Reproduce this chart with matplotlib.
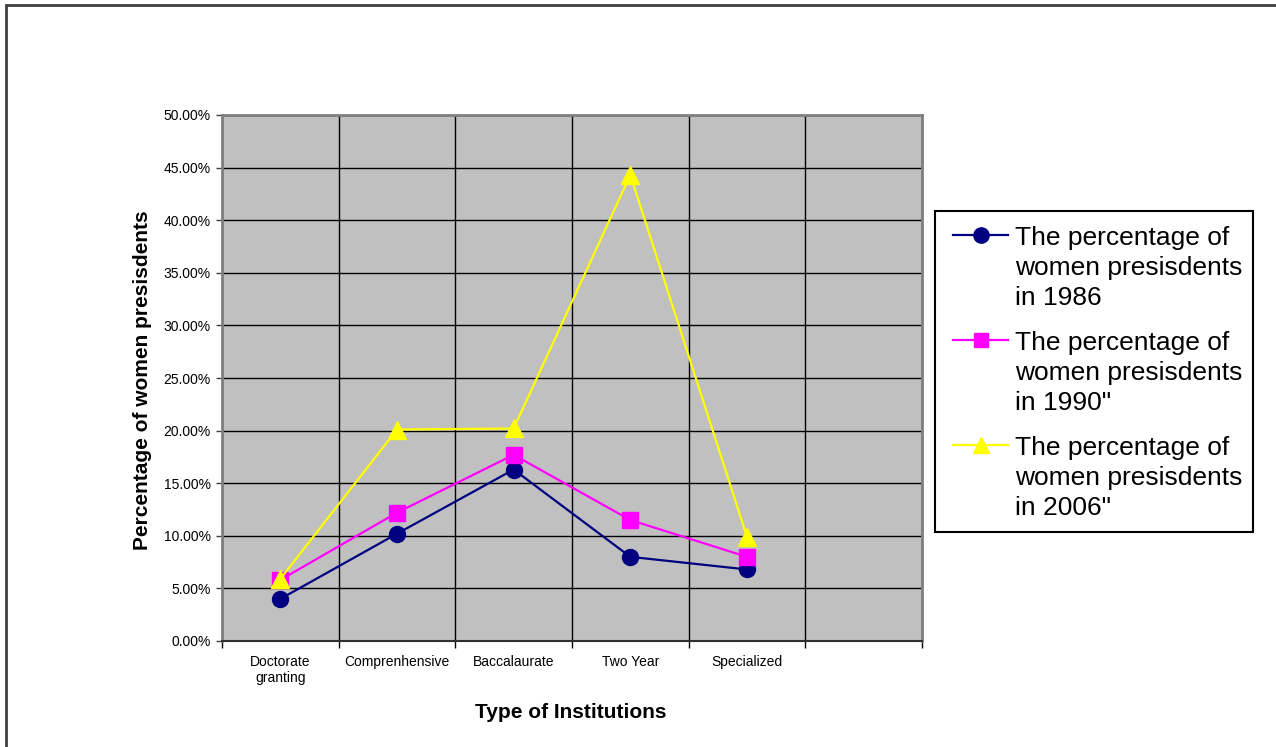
import numpy as np
import matplotlib.pyplot as plt
from matplotlib.patches import Rectangle
from matplotlib.lines import Line2D
from matplotlib.ticker import FuncFormatter, FixedLocator

plt.rcParams['font.family'] = ['Liberation Sans', 'DejaVu Sans']

# types d'établissements et pourcentages de présidentes
categories = ['Doctorate\ngranting', 'Comprenhensive', 'Baccalaurate', 'Two Year', 'Specialized']
p1986 = [0.040, 0.102, 0.163, 0.080, 0.068]
p1990 = [0.058, 0.122, 0.177, 0.115, 0.080]
p2006 = [0.059, 0.201, 0.202, 0.443, 0.099]
labels = ['The percentage of\nwomen presisdents\nin 1986',
          'The percentage of\nwomen presisdents\nin 1990"',
          'The percentage of\nwomen presisdents\nin 2006"']

W, H = 1276, 747
fig = plt.figure(figsize=(W / 100, H / 100), dpi=100)
fig.patch.set_facecolor('white')

def fx(px):
    return px / W

def fy(py):
    return 1 - py / H

# cadre du graphique (seuls les bords haut et gauche sont visibles)
fig.add_artist(Rectangle((fx(6), -0.2), 1.5, 1.2 - 5 / H, transform=fig.transFigure,
                         fill=False, edgecolor='#404040', lw=2, clip_on=False))

left, right, top, bottom = 222, 922, 115, 641
ax = fig.add_axes([fx(left), fy(bottom), (right - left) / W, (bottom - top) / H])
ax.set_facecolor('#c0c0c0')

x = np.arange(len(categories))
lines = []
lines += ax.plot(x, p1986, color='#000080', lw=1.6, marker='o', ms=11.5, zorder=3)
lines += ax.plot(x, p1990, color='#ff00ff', lw=1.6, marker='s', ms=11, zorder=4)
lines += ax.plot(x, p2006, color='#ffff00', lw=1.6, marker='^', ms=12.5, zorder=5)

ax.set_xlim(-0.5, 5.5)
ax.set_ylim(0, 0.5)

# axe x : étiquettes au centre, graduations aux limites
ax.set_xticks(x)
ax.set_xticklabels(categories, fontsize=10)
ax.xaxis.set_minor_locator(FixedLocator(np.arange(-0.5, 6.0, 1.0)))
ax.tick_params(axis='x', which='major', length=0, pad=10)
ax.tick_params(axis='x', which='minor', length=5, width=1, direction='out', color='black')
ax.grid(True, axis='x', which='minor', color='black', lw=1)

ax.set_yticks(np.arange(0, 0.51, 0.05))
ax.yaxis.set_major_formatter(FuncFormatter(lambda v, p: '%.2f%%' % (v * 100)))
ax.tick_params(axis='y', length=4, width=1, direction='out', pad=4, labelsize=10, color='#404040')
ax.grid(True, axis='y', which='major', color='black', lw=1)
ax.set_axisbelow(True)

for s in ['left', 'top', 'right']:
    ax.spines[s].set_color('#808080')
    ax.spines[s].set_linewidth(2)
ax.spines['bottom'].set_color('#303030')
ax.spines['bottom'].set_linewidth(1.5)

fig.text(fx(143), fy(380), 'Percentage of women presisdents', rotation=90,
         ha='center', va='center', fontsize=15, fontweight='bold')
fig.text(fx(571), fy(712), 'Type of Institutions',
         ha='center', va='center', fontsize=15, fontweight='bold')

# légende à la main : le symbole est aligné sur la première ligne du texte
fig.add_artist(Rectangle((fx(935), fy(532)), (1253 - 935) / W, (532 - 211) / H,
                         transform=fig.transFigure, facecolor='white',
                         edgecolor='black', lw=1.5))
for i, (ln, lab) in enumerate(zip(lines, labels)):
    y0 = 235 + 105 * i
    fig.add_artist(Line2D([fx(953), fx(980.5), fx(1008)], [fy(y0)] * 3,
                          transform=fig.transFigure, color=ln.get_color(), lw=1.6,
                          marker=ln.get_marker(), ms=ln.get_markersize() - 0.5, markevery=[1]))
    for j, txt in enumerate(lab.split('\n')):
        fig.text(fx(1015), fy(y0 + 10 + 30 * j), txt, ha='left', va='baseline', fontsize=19)

fig.savefig('out.png', dpi=100)
